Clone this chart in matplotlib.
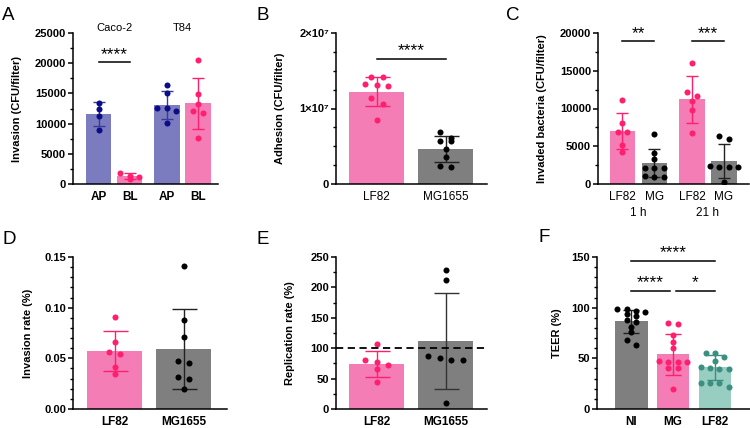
import numpy as np
import matplotlib
matplotlib.use("Agg")
import matplotlib.pyplot as plt
from matplotlib.ticker import MultipleLocator, FixedLocator, FixedFormatter

plt.rcParams['font.family'] = ['Liberation Sans', 'DejaVu Sans']
plt.rcParams['font.size'] = 8
plt.rcParams['axes.linewidth'] = 1.1

# ---- data ----
# A: invasion, Caco-2 / T84, apical vs basolateral
a_ticks = ['AP', 'BL', 'AP', 'BL']
a_groups = ['Caco-2', 'T84']
a_mean = [11590, 1320, 13130, 13360]
a_sd = [1930, 450, 2290, 4250]
a_dots = [
    [13410, 12420, 11310, 8940],
    [1870, 1370, 1110, 830],
    [16390, 15120, 12630, 12630, 12140, 10050],
    [20530, 14850, 13190, 12140, 11700, 7670],
]

# B: adhesion
b_ticks = ['LF82', 'MG1655']
b_mean = [1.223e7, 0.462e7]
b_sd = [0.194e7, 0.168e7]
b_dots = [
    [1.421e7, 1.413e7, 1.325e7, 1.311e7, 1.298e7, 1.143e7, 1.060e7, 0.848e7],
    [0.685e7, 0.609e7, 0.570e7, 0.570e7, 0.459e7, 0.354e7, 0.243e7, 0.229e7],
]

# C: invaded bacteria, 1 h and 21 h
c_ticks = ['LF82', 'MG', 'LF82', 'MG']
c_times = ['1 h', '21 h']
c_mean = [7020, 2740, 11220, 3050]
c_sd = [2430, 1850, 3100, 2210]
c_dots = [
    [11130, 8040, 6890, 6890, 5210, 4240],
    [6580, 4150, 3270, 2080, 2080, 2080, 1000, 970, 970],
    [16070, 12230, 11700, 11030, 9760, 6710],
    [6360, 5920, 2430, 2300, 2300, 2300, 310],
]

# D: invasion rate
d_ticks = ['LF82', 'MG1655']
d_mean = [0.0569, 0.0589]
d_sd = [0.0197, 0.0395]
d_dots = [
    [0.0908, 0.0658, 0.0559, 0.0543, 0.0418, 0.0345],
    [0.1408, 0.0881, 0.0708, 0.0471, 0.0454, 0.0319, 0.0293, 0.0197],
]

# E: replication rate
e_ticks = ['LF82', 'MG1655']
e_mean = [74.0, 111.8]
e_sd = [20.6, 79.0]
e_dots = [
    [106.9, 81.1, 77.8, 72.9, 65.3, 44.9],
    [229.1, 212.2, 86.6, 83.9, 80.6, 80.6, 9.9],
]

# F: TEER
f_ticks = ['NI', 'MG', 'LF82']
f_mean = [86.5, 54.0, 41.1]
f_sd = [11.2, 20.4, 12.3]
f_dots = [
    [99, 98.5, 97, 95.5, 94, 92, 88, 86, 81, 76, 68, 63.5],
    [85.2, 84.2, 73, 66.4, 60.5, 47.7, 46.4, 46.4, 46.4, 40.5, 40.2, 19.4],
    [55.6, 55.0, 51.0, 47.7, 41.5, 40.5, 39.5, 39.3, 26.0, 26.0, 25.3, 22.0],
]

BLUE, NAVY = '#7b7bbf', '#0c0c88'
PINK, PINKDOT = '#f57db5', '#ff1f6e'
GREY, BLACK = '#7f7f7f', '#000000'
TEAL, TEALDOT = '#98cdc2', '#3a8f80'


def swarm(ax, xc, vals, d_px):
    # rows of nearly equal values, spread symmetrically (column scatter)
    tr = ax.transData
    ppu = tr.transform((1, 0))[0] - tr.transform((0, 0))[0]
    ys = np.array([tr.transform((xc, v))[1] for v in vals])
    order = np.argsort(ys)[::-1]
    rows = [[order[0]]]
    for i in order[1:]:
        if ys[rows[-1][0]] - ys[i] < 0.55 * d_px:
            rows[-1].append(i)
        else:
            rows.append([i])
    xs = np.zeros(len(vals))
    for r in rows:
        n = len(r)
        for k, i in enumerate(r):
            xs[i] = xc + (k - (n - 1) / 2) * d_px / ppu
    return xs


def panel(ax, pos, means, sds, dots, barcols, dotcols, errcols, width, cap, dpx):
    ax.bar(pos, means, width=width, color=barcols, zorder=2)
    for x, m, s, ec in zip(pos, means, sds, errcols):
        ax.errorbar(x, m, yerr=s, color=ec, capsize=cap, elinewidth=1.0,
                    capthick=1.0, zorder=3)
    for x, vals, dc in zip(pos, dots, dotcols):
        xs = swarm(ax, x, vals, dpx)
        ax.scatter(xs, vals, s=19, color=dc, zorder=4, linewidths=0)


def style(ax):
    for s in ['top', 'right']:
        ax.spines[s].set_visible(False)
    ax.tick_params(axis='y', which='major', length=3.5, width=1.1, pad=1.5)
    ax.tick_params(axis='y', which='minor', length=2.2, width=1.0)
    ax.tick_params(axis='x', length=0, pad=5)
    for t in ax.get_yticklabels():
        t.set_fontweight('bold')


def sig(ax, x0, x1, y, ys, txt):
    ax.plot([x0, x1], [y, y], color='k', lw=1.1, clip_on=False)
    ax.text((x0 + x1) / 2, ys, txt, ha='center', va='center', fontsize=12.5, clip_on=False)


fig = plt.figure(figsize=(7.5, 4.28), dpi=100)

# ---- A ----
axA = fig.add_axes([73 / 750, 244 / 428, 145 / 750, 151 / 428])
xa = [0, 1, 2.2, 3.2]
axA.set_xlim(-0.83, 3.85)
axA.set_ylim(0, 25000)
panel(axA, xa, a_mean, a_sd, a_dots, [BLUE, PINK, BLUE, PINK],
      [NAVY, PINKDOT, NAVY, PINKDOT], ['#3a3a9a', PINKDOT, '#3a3a9a', PINKDOT], 0.82, 4.5, 9.5)
axA.yaxis.set_major_locator(MultipleLocator(5000))
axA.yaxis.set_minor_locator(MultipleLocator(2500))
axA.set_xticks(xa)
axA.set_xticklabels(a_ticks, fontweight='bold', fontsize=8.5)
axA.set_ylabel('Invasion (CFU/filter)', fontweight='bold', labelpad=9)
axA.text(0.5, 25900, a_groups[0], ha='center', va='center', fontsize=8)
axA.text(2.7, 25900, a_groups[1], ha='center', va='center', fontsize=8)
sig(axA, 0, 1, 20250, 21500, '****')
style(axA)

# ---- B ----
axB = fig.add_axes([336 / 750, 244 / 428, 151 / 750, 151 / 428])
xb = [0, 1]
axB.set_xlim(-0.594, 1.604)
axB.set_ylim(0, 2e7)
panel(axB, xb, b_mean, b_sd, b_dots, [PINK, GREY], [PINKDOT, BLACK], [PINKDOT, '#222222'],
      0.8, 9, 11.5)
axB.yaxis.set_major_locator(FixedLocator([0, 1e7, 2e7]))
axB.yaxis.set_major_formatter(FixedFormatter(['0', '1×10⁷', '2×10⁷']))
axB.yaxis.set_minor_locator(MultipleLocator(2.5e6))
axB.set_xticks(xb)
axB.set_xticklabels(b_ticks, fontsize=8.5)
axB.set_ylabel('Adhesion (CFU/filter)', fontweight='bold', labelpad=10)
sig(axB, 0, 1, 1.65e7, 1.76e7, '****')
style(axB)

# ---- C ----
axC = fig.add_axes([598 / 750, 244 / 428, 151 / 750, 151 / 428])
xc = [0, 1, 2.19, 3.19]
axC.set_xlim(-0.77, 3.98)
axC.set_ylim(0, 20000)
panel(axC, xc, c_mean, c_sd, c_dots, [PINK, GREY, PINK, GREY],
      [PINKDOT, BLACK, PINKDOT, BLACK], [PINKDOT, '#222222', PINKDOT, '#222222'], 0.8, 4.5, 9.5)
axC.yaxis.set_major_locator(MultipleLocator(5000))
axC.yaxis.set_minor_locator(MultipleLocator(2500))
axC.set_xticks(xc)
axC.set_xticklabels(c_ticks, fontsize=8.5)
axC.set_ylabel('Invaded bacteria (CFU/filter)', fontweight='bold', labelpad=9)
axC.text(0.5, -3800, c_times[0], ha='center', va='center', fontsize=8.5)
axC.text(2.69, -3800, c_times[1], ha='center', va='center', fontsize=8.5)
sig(axC, 0, 1, 18940, 19900, '**')
sig(axC, 2.19, 3.19, 18940, 19900, '***')
style(axC)

# ---- D ----
axD = fig.add_axes([73 / 750, 19 / 428, 154 / 750, 152 / 428])
xd = [0, 1]
axD.set_xlim(-0.603, 1.63)
axD.set_ylim(0, 0.15)
panel(axD, xd, d_mean, d_sd, d_dots, [PINK, GREY], [PINKDOT, BLACK], [PINKDOT, '#222222'],
      0.79, 9, 11.5)
axD.yaxis.set_major_locator(MultipleLocator(0.05))
axD.yaxis.set_minor_locator(MultipleLocator(0.01))
axD.yaxis.set_major_formatter(plt.FormatStrFormatter('%.2f'))
axD.set_xticks(xd)
axD.set_xticklabels(d_ticks, fontweight='bold', fontsize=8.5)
axD.set_ylabel('Invasion rate (%)', fontweight='bold', labelpad=8)
style(axD)

# ---- E ----
axE = fig.add_axes([336 / 750, 19 / 428, 151 / 750, 152 / 428])
xe = [0, 1]
axE.set_xlim(-0.594, 1.604)
axE.set_ylim(0, 250)
panel(axE, xe, e_mean, e_sd, e_dots, [PINK, GREY], [PINKDOT, BLACK], [PINKDOT, '#333333'],
      0.8, 9, 11.5)
axE.axhline(100, color='k', lw=1.3, ls=(0, (4, 2.5)), zorder=5)
axE.yaxis.set_major_locator(MultipleLocator(50))
axE.yaxis.set_minor_locator(MultipleLocator(25))
axE.set_xticks(xe)
axE.set_xticklabels(e_ticks, fontweight='bold', fontsize=8.5)
axE.set_ylabel('Replication rate (%)', fontweight='bold', labelpad=11)
style(axE)

# ---- F ----
axF = fig.add_axes([597 / 750, 19 / 428, 153 / 750, 152 / 428])
xf = [0, 1, 2]
axF.set_xlim(-0.82, 2.84)
axF.set_ylim(0, 150)
panel(axF, xf, f_mean, f_sd, f_dots, [GREY, PINK, TEAL], [BLACK, PINKDOT, TEALDOT],
      ['#222222', PINKDOT, TEALDOT], 0.78, 5.5, 9.2)
axF.yaxis.set_major_locator(MultipleLocator(50))
axF.yaxis.set_minor_locator(MultipleLocator(10))
axF.set_xticks(xf)
axF.set_xticklabels(f_ticks, fontweight='bold', fontsize=8.5)
axF.set_ylabel('TEER (%)', fontweight='bold', labelpad=7)
sig(axF, 0, 2, 145.8, 154.5, '****')
sig(axF, 0, 0.93, 116.4, 124.5, '****')
sig(axF, 1.07, 2, 116.4, 124.5, '*')
style(axF)

# panel letters
for lab, x, y in [('A', 2, 7), ('B', 256, 7), ('C', 506, 7),
                  ('D', 2, 231), ('E', 257, 231), ('F', 539, 229)]:
    fig.text(x / 750, 1 - y / 428, lab, fontsize=13.5, va='top', ha='left')

fig.savefig('out.png', dpi=100)
